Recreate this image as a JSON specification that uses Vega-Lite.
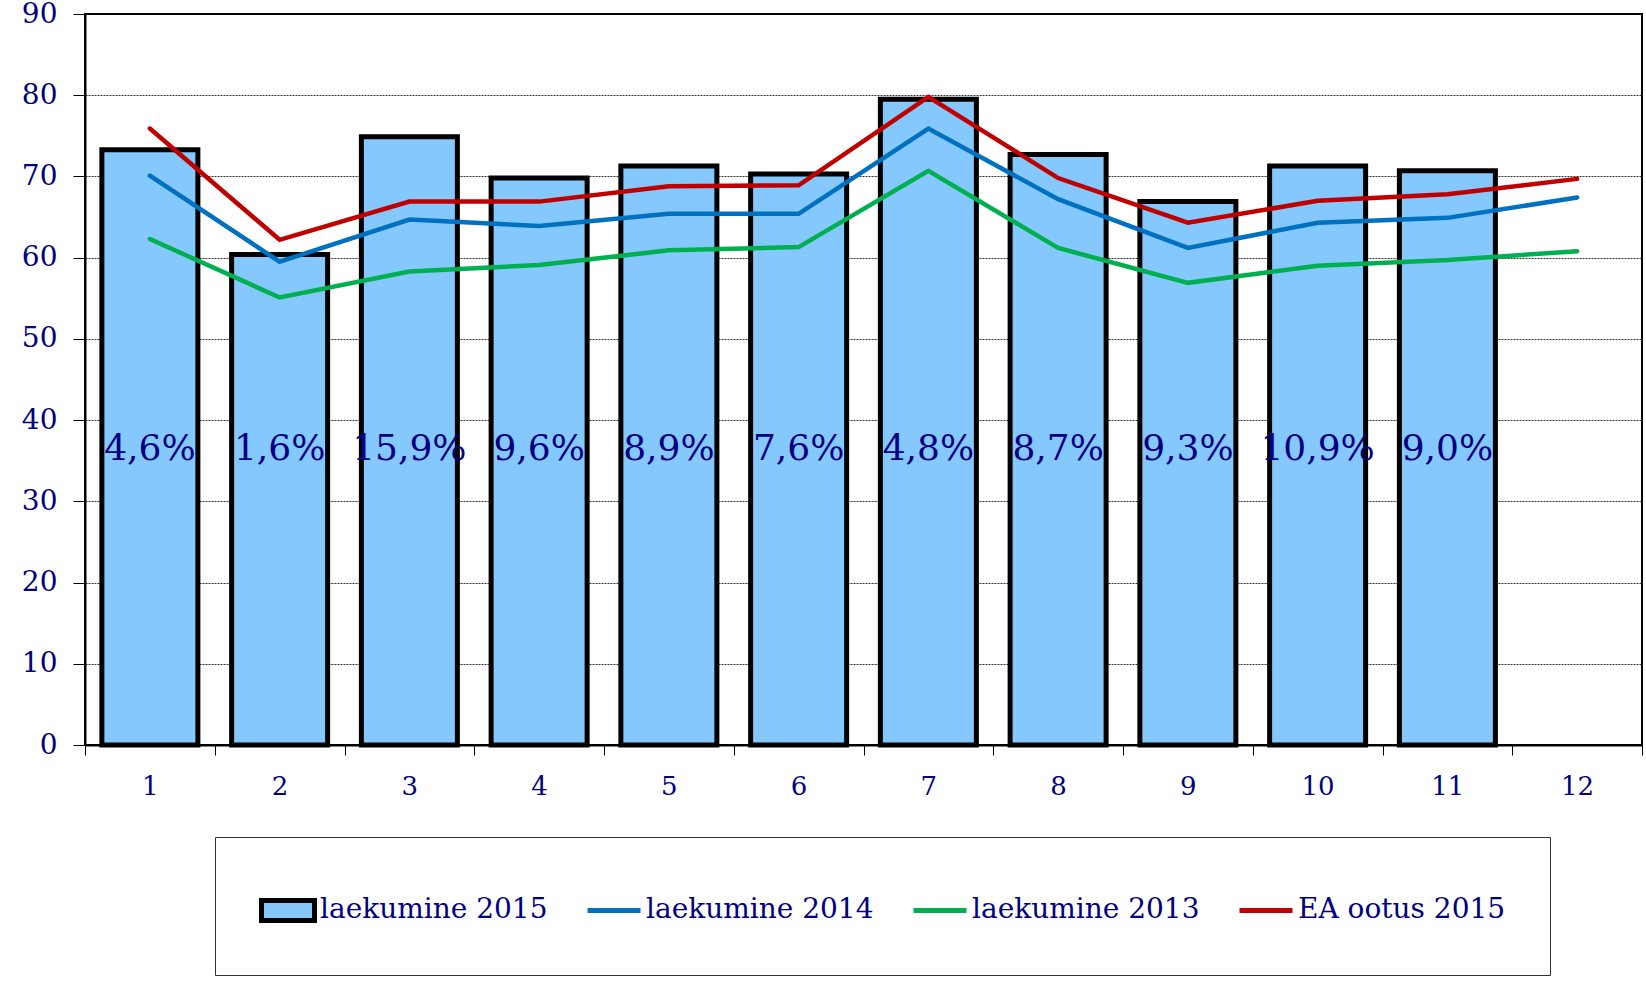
{
  "$schema": "https://vega.github.io/schema/vega-lite/v6.json",
  "width": 1557,
  "height": 731,
  "autosize": {"type": "none"},
  "padding": {"left": 85, "top": 14, "right": 4, "bottom": 239},
  "background": "white",
  "config": {
    "view": {"stroke": "#000", "strokeWidth": 2},
    "font": "DejaVu Serif"
  },
  "datasets": {
    "bars": [
      {"month": 1, "value": 73.3, "label": "4,6%"},
      {"month": 2, "value": 60.4, "label": "1,6%"},
      {"month": 3, "value": 74.9, "label": "15,9%"},
      {"month": 4, "value": 69.8, "label": "9,6%"},
      {"month": 5, "value": 71.3, "label": "8,9%"},
      {"month": 6, "value": 70.3, "label": "7,6%"},
      {"month": 7, "value": 79.5, "label": "4,8%"},
      {"month": 8, "value": 72.7, "label": "8,7%"},
      {"month": 9, "value": 66.9, "label": "9,3%"},
      {"month": 10, "value": 71.3, "label": "10,9%"},
      {"month": 11, "value": 70.7, "label": "9,0%"}
    ],
    "lines": [
      {"month": 1, "series": "laekumine 2013", "value": 62.3},
      {"month": 2, "series": "laekumine 2013", "value": 55.1},
      {"month": 3, "series": "laekumine 2013", "value": 58.3},
      {"month": 4, "series": "laekumine 2013", "value": 59.1},
      {"month": 5, "series": "laekumine 2013", "value": 60.9},
      {"month": 6, "series": "laekumine 2013", "value": 61.3},
      {"month": 7, "series": "laekumine 2013", "value": 70.7},
      {"month": 8, "series": "laekumine 2013", "value": 61.2},
      {"month": 9, "series": "laekumine 2013", "value": 56.9},
      {"month": 10, "series": "laekumine 2013", "value": 59.0},
      {"month": 11, "series": "laekumine 2013", "value": 59.7},
      {"month": 12, "series": "laekumine 2013", "value": 60.8},
      {"month": 1, "series": "laekumine 2014", "value": 70.1},
      {"month": 2, "series": "laekumine 2014", "value": 59.5},
      {"month": 3, "series": "laekumine 2014", "value": 64.7},
      {"month": 4, "series": "laekumine 2014", "value": 63.9},
      {"month": 5, "series": "laekumine 2014", "value": 65.4},
      {"month": 6, "series": "laekumine 2014", "value": 65.4},
      {"month": 7, "series": "laekumine 2014", "value": 75.9},
      {"month": 8, "series": "laekumine 2014", "value": 67.2},
      {"month": 9, "series": "laekumine 2014", "value": 61.2},
      {"month": 10, "series": "laekumine 2014", "value": 64.3},
      {"month": 11, "series": "laekumine 2014", "value": 64.9},
      {"month": 12, "series": "laekumine 2014", "value": 67.4},
      {"month": 1, "series": "EA ootus 2015", "value": 75.9},
      {"month": 2, "series": "EA ootus 2015", "value": 62.2},
      {"month": 3, "series": "EA ootus 2015", "value": 66.9},
      {"month": 4, "series": "EA ootus 2015", "value": 66.9},
      {"month": 5, "series": "EA ootus 2015", "value": 68.8},
      {"month": 6, "series": "EA ootus 2015", "value": 68.9},
      {"month": 7, "series": "EA ootus 2015", "value": 79.8},
      {"month": 8, "series": "EA ootus 2015", "value": 69.8},
      {"month": 9, "series": "EA ootus 2015", "value": 64.3},
      {"month": 10, "series": "EA ootus 2015", "value": 67.0},
      {"month": 11, "series": "EA ootus 2015", "value": 67.8},
      {"month": 12, "series": "EA ootus 2015", "value": 69.7}
    ]
  },
  "encoding": {
    "x": {
      "field": "month",
      "type": "ordinal",
      "scale": {"domain": [1, 2, 3, 4, 5, 6, 7, 8, 9, 10, 11, 12], "paddingInner": 0, "paddingOuter": 0},
      "axis": {
        "title": null,
        "labelAngle": 0,
        "tickBand": "extent",
        "ticks": true,
        "tickSize": 10,
        "tickColor": "#000",
        "tickWidth": 1,
        "domainColor": "#000",
        "domainWidth": 2,
        "labelFontSize": 26,
        "labelColor": "#000080",
        "labelPadding": 18,
        "grid": false
      }
    },
    "y": {
      "field": "value",
      "type": "quantitative",
      "scale": {"domain": [0, 90], "nice": false},
      "axis": {
        "title": null,
        "values": [0, 10, 20, 30, 40, 50, 60, 70, 80, 90],
        "grid": true,
        "gridDash": [2, 1],
        "gridColor": "#000",
        "gridWidth": 1,
        "gridOpacity": 0.8,
        "tickSize": 12,
        "tickColor": "#000",
        "domainColor": "#000",
        "domainWidth": 2,
        "labelFontSize": 28,
        "labelColor": "#000080",
        "labelPadding": 16
      }
    }
  },
  "layer": [
    {
      "data": {"name": "bars"},
      "mark": {"type": "bar", "fill": "#84C8FD", "stroke": "#000", "strokeWidth": 5, "width": {"band": 0.74}}
    },
    {
      "data": {"name": "lines"},
      "mark": {"type": "line", "strokeCap": "round"},
      "encoding": {
        "color": {
          "field": "series",
          "type": "nominal",
          "title": null,
          "scale": {
            "domain": ["laekumine 2015", "laekumine 2014", "laekumine 2013", "EA ootus 2015"],
            "range": ["#000000", "#0070C0", "#00B050", "#C00000"]
          },
          "legend": {
            "orient": "none",
            "legendX": 130,
            "legendY": 823,
            "direction": "horizontal",
            "columns": 4,
            "columnPadding": 29,
            "padding": 44,
            "title": null,
            "strokeColor": "#333",
            "labelFont": "DejaVu Serif",
            "labelFontSize": 28,
            "labelColor": "#000080",
            "labelOffset": 3,
            "labelLimit": 400,
            "symbolSize": 2809,
            "symbolStrokeWidth": 5,
            "encode": {
              "symbols": {
                "update": {
                  "shape": {"signal": "datum.value === 'laekumine 2015' ? 'M-1,-0.38L1,-0.38L1,0.38L-1,0.38Z' : 'M-1,0L1,0M-1,-0.38L-1,-0.38M-1,0.38L-1,0.38'"},
                  "fill": {"signal": "datum.value === 'laekumine 2015' ? '#84C8FD' : 'transparent'"},
                  "strokeWidth": {"value": 5},
                  "opacity": {"value": 1}
                }
              }
            }
          }
        },
        "strokeWidth": {
          "field": "series",
          "type": "nominal",
          "scale": {"domain": ["laekumine 2013", "laekumine 2014", "EA ootus 2015"], "range": [4.5, 4.5, 5.5]},
          "legend": null
        }
      }
    },
    {
      "data": {"name": "bars"},
      "mark": {"type": "text", "fontSize": 36, "color": "#000080", "baseline": "middle", "align": "center", "font": "DejaVu Serif"},
      "encoding": {
        "y": {"datum": 36.4, "type": "quantitative"},
        "text": {"field": "label"}
      }
    }
  ]
}
